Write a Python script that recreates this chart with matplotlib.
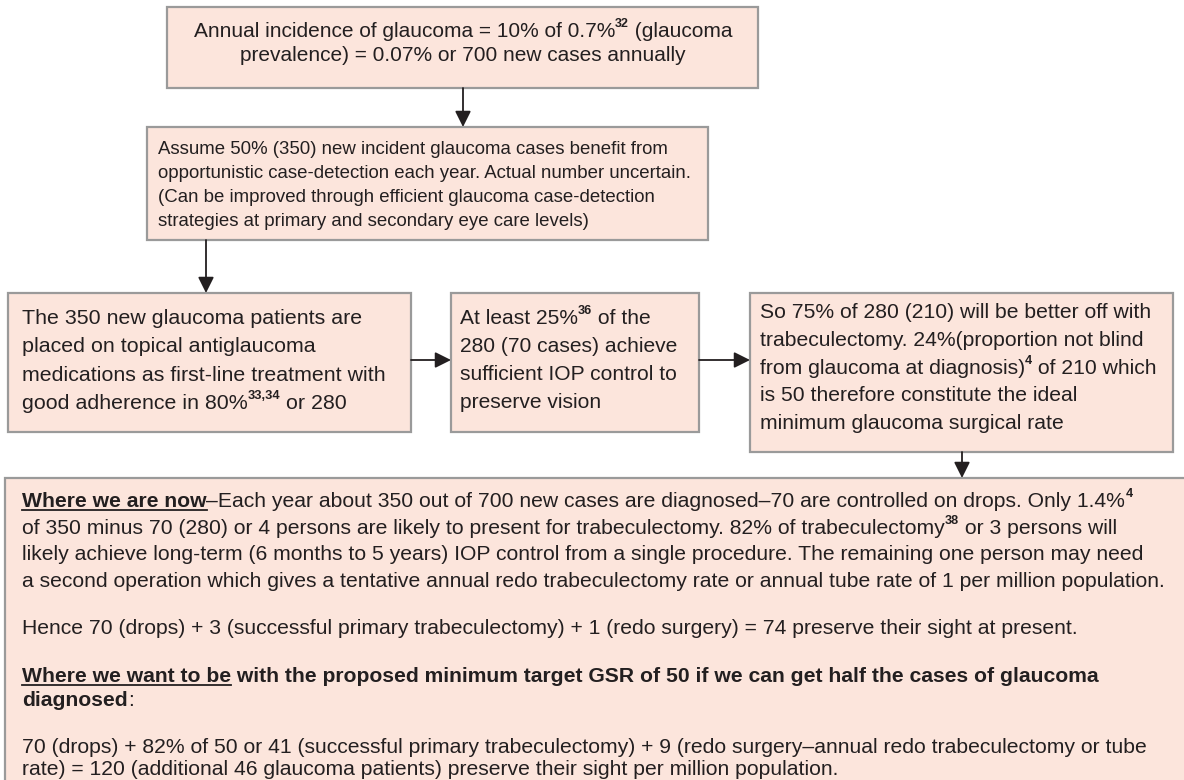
import matplotlib
matplotlib.use("Agg")
import matplotlib.pyplot as plt
from matplotlib.patches import Rectangle
from matplotlib.font_manager import FontProperties

plt.rcParams['font.family'] = ['Liberation Sans', 'DejaVu Sans']

# box texts, one list of runs per line: (text, kind)
# kind: n = normal, s = superscript, b = bold, bu = bold underlined
box1_lines = [
    [("Annual incidence of glaucoma = 10% of 0.7%", "n"), ("32", "s"), (" (glaucoma", "n")],
    [("prevalence) = 0.07% or 700 new cases annually", "n")],
]
box2_lines = [
    [("Assume 50% (350) new incident glaucoma cases benefit from", "n")],
    [("opportunistic case-detection each year. Actual number uncertain.", "n")],
    [("(Can be improved through efficient glaucoma case-detection", "n")],
    [("strategies at primary and secondary eye care levels)", "n")],
]
box3_lines = [
    [("The 350 new glaucoma patients are", "n")],
    [("placed on topical antiglaucoma", "n")],
    [("medications as first-line treatment with", "n")],
    [("good adherence in 80%", "n"), ("33,34", "s"), (" or 280", "n")],
]
box4_lines = [
    [("At least 25%", "n"), ("36", "s"), (" of the", "n")],
    [("280 (70 cases) achieve", "n")],
    [("sufficient IOP control to", "n")],
    [("preserve vision", "n")],
]
box5_lines = [
    [("So 75% of 280 (210) will be better off with", "n")],
    [("trabeculectomy. 24%(proportion not blind", "n")],
    [("from glaucoma at diagnosis)", "n"), ("4", "s"), (" of 210 which", "n")],
    [("is 50 therefore constitute the ideal", "n")],
    [("minimum glaucoma surgical rate", "n")],
]
box6_lines = [
    [("Where we are now", "bu"), ("\u2013Each year about 350 out of 700 new cases are diagnosed\u201370 are controlled on drops. Only 1.4%", "n"), ("4", "s")],
    [("of 350 minus 70 (280) or 4 persons are likely to present for trabeculectomy. 82% of trabeculectomy", "n"), ("38", "s"), (" or 3 persons will", "n")],
    [("likely achieve long-term (6 months to 5 years) IOP control from a single procedure. The remaining one person may need", "n")],
    [("a second operation which gives a tentative annual redo trabeculectomy rate or annual tube rate of 1 per million population.", "n")],
    [("Hence 70 (drops) + 3 (successful primary trabeculectomy) + 1 (redo surgery) = 74 preserve their sight at present.", "n")],
    [("Where we want to be", "bu"), (" with the proposed minimum target GSR of 50 if we can get half the cases of glaucoma", "b")],
    [("diagnosed", "b"), (":", "n")],
    [("70 (drops) + 82% of 50 or 41 (successful primary trabeculectomy) + 9 (redo surgery\u2013annual redo trabeculectomy or tube", "n")],
    [("rate) = 120 (additional 46 glaucoma patients) preserve their sight per million population.", "n")],
]

FILL = "#fce5dc"
EDGE = "#9a9a9a"
INK = "#231f20"

fig = plt.figure(figsize=(11.84, 7.8), dpi=100)
ax = fig.add_axes([0, 0, 1, 1])
ax.set_xlim(0, 1184)
ax.set_ylim(780, 0)
ax.axis("off")
renderer = fig.canvas.get_renderer()


def props(kind, fs):
    size = fs * 0.6 if kind == "s" else fs
    weight = "bold" if kind in ("b", "bu", "s") else "normal"
    return FontProperties(family=['Liberation Sans', 'DejaVu Sans'], size=size, weight=weight)


def run_width(txt, kind, fs):
    fp = props(kind, fs)
    w1 = renderer.get_text_width_height_descent(txt + "|", fp, False)[0]
    w2 = renderer.get_text_width_height_descent("|", fp, False)[0]
    return w1 - w2


def draw_line(x, y, runs, fs=15.1, center=False):
    if center:
        x = x - sum(run_width(t, k, fs) for t, k in runs) / 2
    for txt, kind in runs:
        w = run_width(txt, kind, fs)
        yy = y - 10 if kind == "s" else y
        ax.text(x, yy, txt, fontproperties=props(kind, fs), color=INK,
                ha="left", va="baseline")
        if kind == "bu":
            ax.plot([x, x + w], [y + 2.5, y + 2.5], color=INK, lw=1.3)
        x += w


def draw_box(x0, y0, x1, y1):
    ax.add_patch(Rectangle((x0, y0), x1 - x0, y1 - y0, facecolor=FILL,
                           edgecolor=EDGE, lw=1.6))


def arrow(x0, y0, x1, y1):
    ax.annotate("", xy=(x1, y1), xytext=(x0, y0),
                arrowprops=dict(arrowstyle="-|>", color=INK, lw=1.3,
                                mutation_scale=24, shrinkA=0, shrinkB=0))


# boxes
draw_box(167, 7, 758, 88)
draw_box(147, 127, 708, 240)
draw_box(8, 293, 411, 432)
draw_box(451, 293, 699, 432)
draw_box(750, 293, 1173, 452)
draw_box(5, 478, 1200, 800)

# arrows
arrow(463, 88, 463, 127)
arrow(206, 240, 206, 293)
arrow(411, 360, 451, 360)
arrow(699, 360, 750, 360)
arrow(962, 452, 962, 478)

# text
for i, line in enumerate(box1_lines):
    draw_line(463, 37 + i * 24, line, fs=15, center=True)
for i, line in enumerate(box2_lines):
    draw_line(158, 154 + i * 24, line, fs=13.4)
for i, line in enumerate(box3_lines):
    draw_line(22, 324 + i * 28.3, line, fs=15.4)
for i, line in enumerate(box4_lines):
    draw_line(460, 324 + i * 28, line, fs=15.1)
for i, line in enumerate(box5_lines):
    draw_line(760, 318 + i * 27.8, line, fs=15.2)
box6_y = [507, 534, 560, 587, 634, 682, 706, 753, 775]
for y, line in zip(box6_y, box6_lines):
    draw_line(22, y, line, fs=15.2)

fig.savefig("out.png", dpi=100)
